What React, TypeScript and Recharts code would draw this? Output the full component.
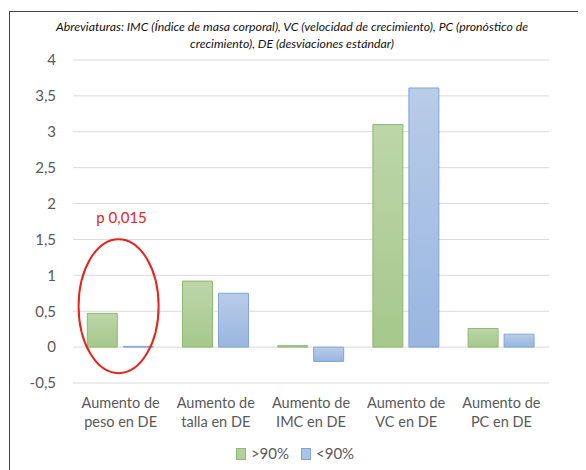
import React from 'react';
import { BarChart, Bar, XAxis, YAxis, CartesianGrid, ReferenceDot } from 'recharts';

const categories = [
    'Aumento de peso en DE',
    'Aumento de talla en DE',
    'Aumento de IMC en DE',
    'Aumento de VC en DE',
    'Aumento de PC en DE',
];
const above90 = [0.47, 0.92, 0.02, 3.1, 0.26];
const below90 = [0.01, 0.75, -0.2, 3.61, 0.18];
const yTicks = [-0.5, 0, 0.5, 1, 1.5, 2, 2.5, 3, 3.5, 4];
const seriesNames = ['>90%', '<90%'];

const highlightCategory = 'Aumento de peso en DE';
const highlightLabel = 'p 0,015';
const highlightCenter = 0.57;

const data = categories.map((name, i) => ({
    name,
    above: above90[i],
    below: below90[i],
}));

const FONT = 'Lato, "Open Sans", sans-serif';
const GRAY = '#595959';

const CategoryTick = (props: any) => {
    const { x, y, payload } = props;
    const full: string = payload.value;
    const first = 'Aumento de';
    const second = full.replace('Aumento de ', '');
    return (
        <g>
            <text x={x} y={y + 25} textAnchor="middle" fill={GRAY} fontSize={14.5} fontFamily={FONT}>
                {first}
            </text>
            <text x={x} y={y + 44} textAnchor="middle" fill={GRAY} fontSize={14.5} fontFamily={FONT}>
                {second}
            </text>
        </g>
    );
};

const Highlight = (props: any) => {
    const { cx, cy } = props;
    if (cx == null || cy == null) return null;
    return (
        <g>
            <ellipse cx={cx - 2} cy={cy} rx={40} ry={67} fill="none" stroke="#e8231b" strokeWidth={2} />
            <text x={cx + 1} y={cy - 83} textAnchor="middle" fill="#e8231b" fontSize={15} fontFamily={FONT}>
                {highlightLabel}
            </text>
        </g>
    );
};

const Swatch = ({ fill, stroke }: { fill: string; stroke: string }) => (
    <span
        style={{
            display: 'inline-block',
            width: 8,
            height: 10,
            background: fill,
            border: `1px solid ${stroke}`,
            marginRight: 5,
            verticalAlign: 'middle',
            position: 'relative',
            top: -1,
        }}
    />
);

const App: React.FC = () => {
    return (
        <div style={{ position: 'relative', width: 578, height: 462, fontFamily: FONT, overflow: 'hidden' }}>
            <div
                style={{
                    position: 'absolute',
                    left: 1,
                    top: 3,
                    width: 577,
                    height: 459,
                    borderTop: '1px solid #444',
                    borderLeft: '1px solid #444',
                }}
            />
            <div
                style={{
                    position: 'absolute',
                    left: 0,
                    top: 10,
                    width: 568,
                    textAlign: 'center',
                    fontStyle: 'italic',
                    fontSize: 12.3,
                    lineHeight: '17px',
                    color: '#111',
                }}
            >
                <div>Abreviaturas: IMC (Índice de masa corporal), VC (velocidad de crecimiento), PC (pronóstico de</div>
                <div>crecimiento), DE (desviaciones estándar)</div>
            </div>
            <div style={{ position: 'absolute', left: 0, top: 0 }}>
                <BarChart
                    width={570}
                    height={460}
                    data={data}
                    margin={{ top: 52, right: 29, left: 0, bottom: 35 }}
                    barCategoryGap="15%"
                    barGap={6}
                >
                    <defs>
                        <linearGradient id="gGreen" x1="0" y1="0" x2="0" y2="1">
                            <stop offset="0%" stopColor="#bdd6a9" />
                            <stop offset="100%" stopColor="#a5c88b" />
                        </linearGradient>
                        <linearGradient id="gBlue" x1="0" y1="0" x2="0" y2="1">
                            <stop offset="0%" stopColor="#b9cce8" />
                            <stop offset="100%" stopColor="#98b6e0" />
                        </linearGradient>
                    </defs>
                    <CartesianGrid vertical={false} stroke="#d9d9d9" strokeWidth={1} />
                    <XAxis
                        dataKey="name"
                        axisLine={false}
                        tickLine={false}
                        tickSize={0}
                        tickMargin={0}
                        height={50}
                        interval={0}
                        tick={<CategoryTick />}
                    />
                    <YAxis
                        width={65}
                        domain={[-0.5, 4]}
                        ticks={yTicks}
                        axisLine={false}
                        tickLine={false}
                        tickSize={0}
                        tickMargin={17}
                        tickFormatter={(v: number) => String(v).replace('.', ',')}
                        tick={{ fill: GRAY, fontSize: 15, fontFamily: FONT }}
                    />
                    <Bar dataKey="above" name={seriesNames[0]} fill="url(#gGreen)" stroke="#8db970" strokeWidth={1} isAnimationActive={false} />
                    <Bar dataKey="below" name={seriesNames[1]} fill="url(#gBlue)" stroke="#7fa5da" strokeWidth={1} isAnimationActive={false} />
                    <ReferenceDot
                        x={highlightCategory}
                        y={highlightCenter}
                        ifOverflow="visible"
                        shape={<Highlight />}
                    />
                </BarChart>
            </div>
            <div
                style={{
                    position: 'absolute',
                    left: 0,
                    top: 436,
                    width: 574,
                    textAlign: 'center',
                    fontSize: 15,
                    lineHeight: '18px',
                    color: GRAY,
                }}
            >
                <span style={{ marginRight: 12 }}>
                    <Swatch fill="#b3d09c" stroke="#8db970" />
                    {seriesNames[0]}
                </span>
                <span>
                    <Swatch fill="#abc3e6" stroke="#7fa5da" />
                    {seriesNames[1]}
                </span>
            </div>
        </div>
    );
};

export default App;
